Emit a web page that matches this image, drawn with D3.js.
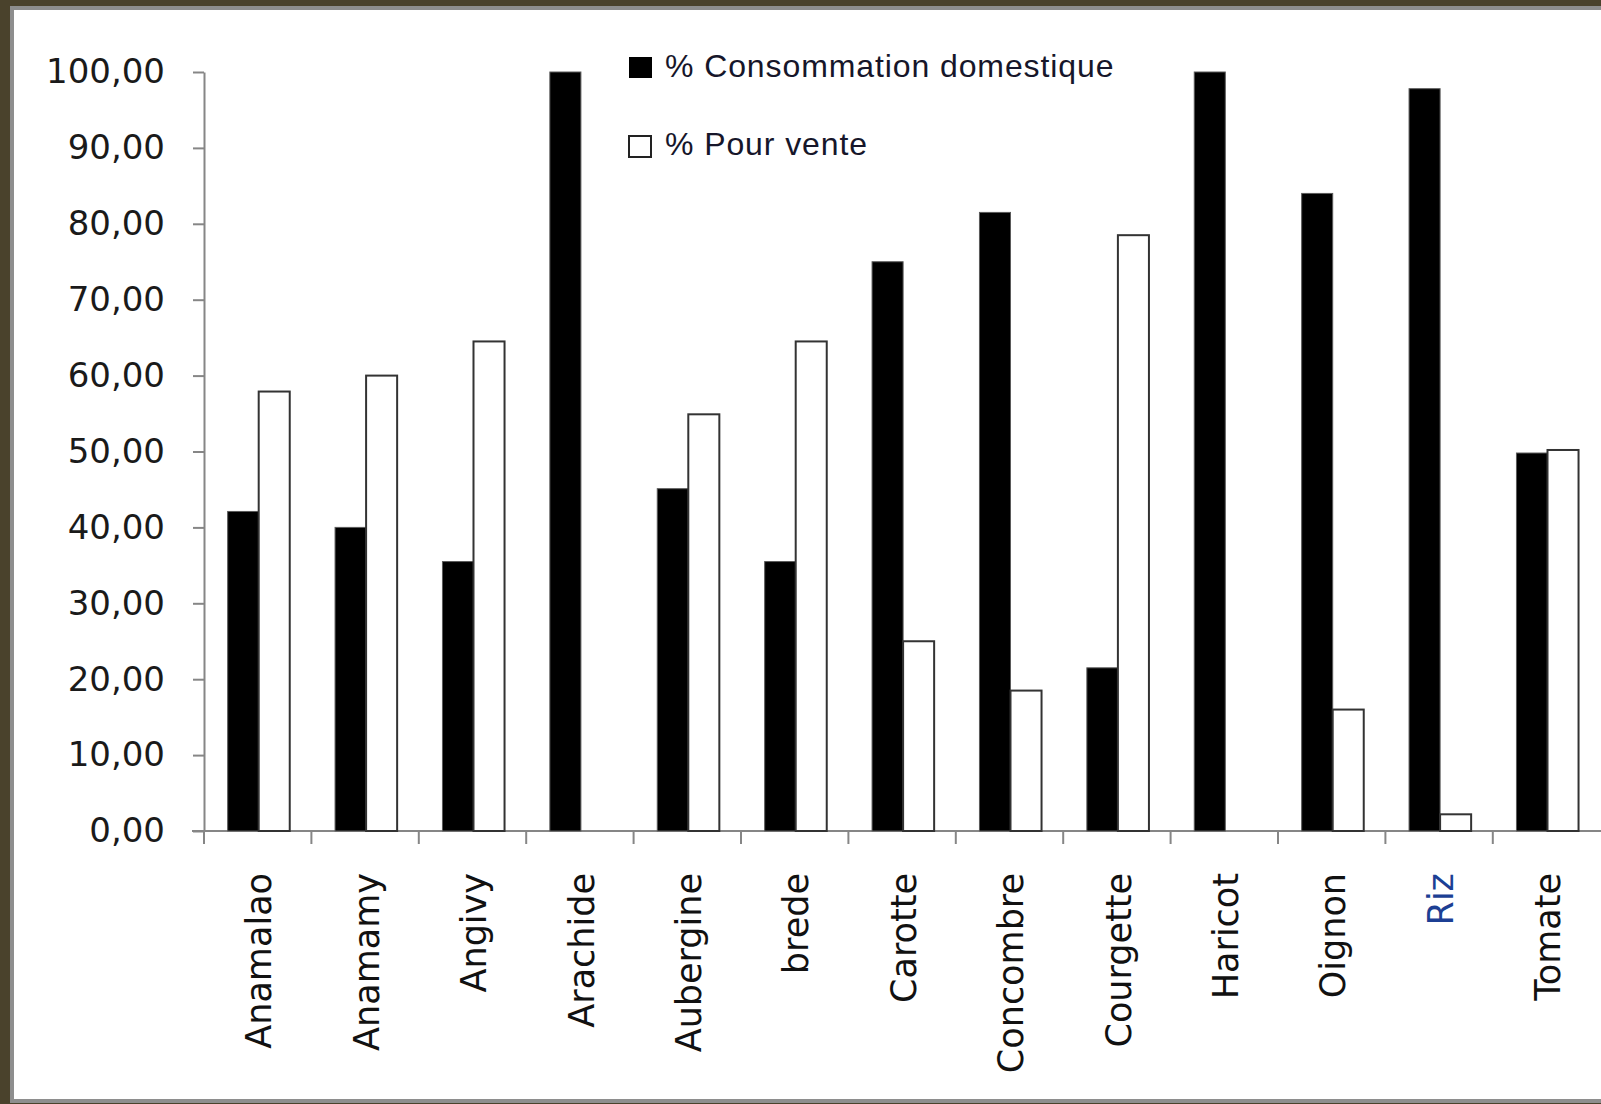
<!DOCTYPE html>
<meta charset="utf-8">
<script src="https://d3js.org/d3.v7.min.js"></script>
<style>
  body { margin: 0; background-color: #4a422c; overflow: hidden; }
</style>
<body>
<div id="chart"></div>
<script>

// data
var categories = ["Anamalao", "Anamamy", "Angivy", "Arachide", "Aubergine", "brede", "Carotte",
                  "Concombre", "Courgette", "Haricot", "Oignon", "Riz", "Tomate"];
var consommation = [42.1, 40.0, 35.5, 100, 45.1, 35.5, 75.0, 81.5, 21.5, 100, 84.0, 97.8, 49.8];
var vente = [57.9, 60.0, 64.5, 0, 54.9, 64.5, 25.0, 18.5, 78.5, 0, 16.0, 2.2, 50.2];
var series = ["% Consommation domestique", "% Pour vente"];
var yTicks = [0, 10, 20, 30, 40, 50, 60, 70, 80, 90, 100];

var W = 1601, H = 1104;

var svg = d3.select("#chart")
  .append("svg")
    .attr("width", W)
    .attr("height", H);

// olive frame + white panel with grey edge
svg.append("rect").attr("width", W).attr("height", H).attr("fill", "#4a422c");
svg.append("rect")
    .attr("x", 12).attr("y", 8)
    .attr("width", 1620).attr("height", 1093)
    .attr("fill", "#ffffff")
    .attr("stroke", "#8e8e8e")
    .attr("stroke-width", 4);

// scales
var x = d3.scaleBand()
    .domain(categories)
    .range([204, 204 + 13 * 107.4])
    .padding(0);

var x1 = d3.scaleBand()
    .domain(series)
    .range([0, x.bandwidth()])
    .paddingInner(0)
    .paddingOuter(0.73);

var y = d3.scaleLinear()
    .domain([0, 100])
    .range([831, 72]);

// Y axis
var yAxis = svg.append("g")
    .attr("transform", "translate(204,0)")
    .call(d3.axisLeft(y).tickValues(yTicks).tickSize(11).tickSizeOuter(0).tickPadding(28)
      .tickFormat(function(d) { return d3.format(".2f")(d).replace(".", ","); }));
yAxis.selectAll("path, line").attr("stroke", "#868686").attr("stroke-width", 2);
yAxis.selectAll("text")
    .style("font-family", "DejaVu Sans, Verdana, sans-serif")
    .style("font-size", "34px")
    .attr("fill", "#1a1a1a");

// X axis line and ticks at band edges
svg.append("line")
    .attr("x1", 192).attr("x2", x.range()[1] + 10)
    .attr("y1", y(0)).attr("y2", y(0))
    .attr("stroke", "#868686").attr("stroke-width", 2);
svg.append("g")
  .selectAll("line")
  .data(categories)
  .enter().append("line")
    .attr("x1", function(d) { return x(d); })
    .attr("x2", function(d) { return x(d); })
    .attr("y1", y(0)).attr("y2", y(0) + 13)
    .attr("stroke", "#868686").attr("stroke-width", 2);

// category labels, rotated
svg.append("g")
  .selectAll("text")
  .data(categories)
  .enter().append("text")
    .attr("transform", function(d) {
      return "translate(" + (x(d) + x.bandwidth() / 2 + 1) + ",873) rotate(-90)";
    })
    .attr("text-anchor", "end")
    .attr("dy", "0.36em")
    .style("font-family", "DejaVu Sans, Verdana, sans-serif")
    .style("font-size", "35px")
    .attr("fill", function(d) { return d == "Riz" ? "#1c3f94" : "#111111"; })
    .text(function(d) { return d; });

// bars
var rows = categories.map(function(c, i) {
  return [{cat: c, key: series[0], value: consommation[i]},
          {cat: c, key: series[1], value: vente[i]}];
});

svg.append("g")
  .selectAll("g")
  .data(rows)
  .enter().append("g")
    .attr("transform", function(d) { return "translate(" + (x(d[0].cat) + 1) + ",0)"; })
  .selectAll("rect")
  .data(function(d) { return d.filter(function(b) { return b.value > 0; }); })
  .enter().append("rect")
    .attr("x", function(d) { return x1(d.key); })
    .attr("y", function(d) { return y(d.value); })
    .attr("width", x1.bandwidth())
    .attr("height", function(d) { return y(0) - y(d.value); })
    .attr("fill", function(d) { return d.key == series[0] ? "#000000" : "#ffffff"; })
    .attr("stroke", function(d) { return d.key == series[0] ? "#5a5a5a" : "#333333"; })
    .attr("stroke-width", function(d) { return d.key == series[0] ? 1 : 2; });

// legend
var legend = svg.append("g");
legend.append("rect").attr("x", 629).attr("y", 57).attr("width", 23).attr("height", 21)
    .attr("fill", "#000000");
legend.append("rect").attr("x", 629).attr("y", 136).attr("width", 22).attr("height", 21)
    .attr("fill", "#ffffff").attr("stroke", "#222222").attr("stroke-width", 2);
legend.selectAll("text")
  .data(series)
  .enter().append("text")
    .attr("x", 665)
    .attr("y", function(d, i) { return 77 + i * 78; })
    .style("font-family", "Liberation Sans, Arial, sans-serif")
    .style("font-size", "32px")
    .style("letter-spacing", "0.9px")
    .attr("fill", "#16162a")
    .text(function(d) { return d; });

</script>
</body>
